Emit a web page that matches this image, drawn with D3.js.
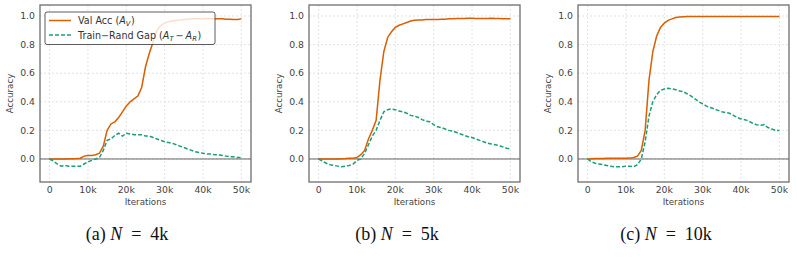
<!DOCTYPE html>
<html>
<head>
<meta charset="utf-8">
<script src="https://cdn.jsdelivr.net/npm/d3@7"></script>
<style>
  body { margin: 0; background: #fff; }
  svg text { font-family: "DejaVu Sans", sans-serif; }
</style>
</head>
<body>
<div id="chart"></div>
<script>
    // iterations in thousands
    const iters = d3.range(0, 51);
    const xTicks = [0, 10, 20, 30, 40, 50];
    const xTickLabels = ["0", "10k", "20k", "30k", "40k", "50k"];
    const yTicks = [0, 0.2, 0.4, 0.6, 0.8, 1.0];
    const captions = [["(a) ", "N", "4k"], ["(b) ", "N", "5k"], ["(c) ", "N", "10k"]];

    const valA = [0,0,0,0,0,0.002,0.002,0.003,0.005,0.02,0.025,0.025,0.03,0.04,0.09,0.2,0.245,0.26,0.29,0.33,
        0.37,0.4,0.42,0.44,0.5,0.645,0.74,0.82,0.9,0.935,0.95,0.96,0.965,0.97,0.972,0.975,0.978,0.98,0.98,0.98,
        0.98,0.982,0.98,0.98,0.98,0.98,0.978,0.978,0.975,0.975,0.98];
    const gapA = [0,-0.015,-0.035,-0.05,-0.045,-0.05,-0.05,-0.05,-0.05,-0.035,-0.02,-0.01,0,0.01,0.06,0.13,0.14,0.165,0.18,0.16,
        0.18,0.175,0.17,0.17,0.17,0.16,0.16,0.15,0.14,0.13,0.12,0.115,0.11,0.1,0.09,0.08,0.07,0.06,0.05,0.045,
        0.04,0.035,0.035,0.03,0.03,0.025,0.02,0.015,0.015,0.01,0.01];
    const valB = [0,0,0,0,0,0,0.002,0.003,0.005,0.005,0.01,0.03,0.06,0.14,0.2,0.27,0.55,0.75,0.85,0.89,
        0.92,0.935,0.945,0.955,0.965,0.97,0.972,0.972,0.975,0.975,0.975,0.975,0.978,0.978,0.98,0.98,0.982,0.982,0.982,0.985,
        0.985,0.983,0.982,0.983,0.983,0.985,0.983,0.983,0.98,0.98,0.98];
    const gapB = [0,-0.015,-0.03,-0.04,-0.045,-0.05,-0.055,-0.05,-0.045,-0.035,-0.01,0,0.04,0.1,0.16,0.2,0.27,0.33,0.345,0.35,
        0.345,0.335,0.33,0.32,0.305,0.3,0.29,0.275,0.265,0.26,0.24,0.225,0.22,0.21,0.2,0.195,0.185,0.175,0.165,0.155,
        0.15,0.14,0.13,0.12,0.11,0.105,0.1,0.095,0.085,0.075,0.07];
    const valC = [0,0.002,0.003,0.003,0.004,0.005,0.005,0.005,0.005,0.005,0.005,0.006,0.01,0.02,0.06,0.2,0.55,0.75,0.86,0.92,
        0.95,0.97,0.98,0.99,0.993,0.995,0.996,0.997,0.997,0.997,0.997,0.997,0.997,0.997,0.997,0.997,0.997,0.997,0.997,0.997,
        0.997,0.997,0.997,0.997,0.997,0.997,0.997,0.997,0.997,0.997,0.997];
    const gapC = [0,-0.02,-0.03,-0.035,-0.04,-0.045,-0.05,-0.055,-0.055,-0.055,-0.05,-0.05,-0.055,-0.04,0,0.12,0.3,0.4,0.45,0.48,
        0.49,0.495,0.49,0.485,0.475,0.47,0.455,0.44,0.42,0.4,0.385,0.37,0.36,0.35,0.34,0.33,0.325,0.32,0.305,0.29,
        0.28,0.275,0.265,0.25,0.24,0.235,0.24,0.22,0.21,0.2,0.2];

    const panels = [
        { val: valA, gap: gapA, left: 40, capX: 127 },
        { val: valB, gap: gapB, left: 309, capX: 397 },
        { val: valC, gap: gapC, left: 578, capX: 666 }
    ];

    const width = 797, height = 260;
    const axW = 211, axTop = 5, axBottom = 182;
    const orange = "#d95f02", green = "#1b9e77";

    const svg = d3.select("#chart").append("svg")
        .attr("width", width)
        .attr("height", height);

    const y = d3.scaleLinear().domain([-0.161, 1.077]).range([axBottom, axTop]);

    panels.forEach((p, pi) => {
        const x = d3.scaleLinear().domain([-2.5, 52.5]).range([p.left, p.left + axW]);
        const g = svg.append("g");

        // grid
        g.selectAll(".gx").data(xTicks).enter().append("line")
            .attr("x1", d => x(d)).attr("x2", d => x(d))
            .attr("y1", axTop).attr("y2", axBottom)
            .attr("stroke", "#dcdcdc").attr("stroke-width", 0.8).attr("stroke-dasharray", "2,2");
        g.selectAll(".gy").data(yTicks).enter().append("line")
            .attr("x1", p.left).attr("x2", p.left + axW)
            .attr("y1", d => y(d)).attr("y2", d => y(d))
            .attr("stroke", "#dcdcdc").attr("stroke-width", 0.8).attr("stroke-dasharray", "2,2");

        // zero line
        g.append("line")
            .attr("x1", p.left).attr("x2", p.left + axW)
            .attr("y1", y(0)).attr("y2", y(0))
            .attr("stroke", "#555").attr("stroke-width", 0.9);

        const line = data => d3.line().x((d, i) => x(iters[i])).y(d => y(d))(data);

        g.append("path").attr("d", line(p.val))
            .attr("fill", "none").attr("stroke", orange).attr("stroke-width", 1.5);
        g.append("path").attr("d", line(p.gap))
            .attr("fill", "none").attr("stroke", green).attr("stroke-width", 1.5)
            .attr("stroke-dasharray", "4,2");

        // frame
        g.append("rect")
            .attr("x", p.left).attr("y", axTop)
            .attr("width", axW).attr("height", axBottom - axTop)
            .attr("fill", "none").attr("stroke", "#6e6e6e").attr("stroke-width", 1.3);

        // tick labels
        g.selectAll(".tx").data(xTicks).enter().append("text")
            .attr("x", d => x(d)).attr("y", 193)
            .attr("text-anchor", "middle")
            .attr("font-size", 9.3).attr("fill", "#444")
            .text((d, i) => xTickLabels[i]);
        g.selectAll(".ty").data(yTicks).enter().append("text")
            .attr("x", p.left - 5).attr("y", d => y(d) + 3.3)
            .attr("text-anchor", "end")
            .attr("font-size", 9.3).attr("fill", "#444")
            .text(d => d3.format(".1f")(d));

        // axis labels
        g.append("text")
            .attr("x", p.left + axW / 2).attr("y", 205)
            .attr("text-anchor", "middle")
            .attr("font-size", 8.7).attr("fill", "#444")
            .text("Iterations");
        g.append("text")
            .attr("transform", `translate(${p.left - 27},${(axTop + axBottom) / 2}) rotate(-90)`)
            .attr("text-anchor", "middle")
            .attr("font-size", 8.7).attr("fill", "#444")
            .text("Accuracy");

        // caption
        const cap = svg.append("text")
            .attr("x", p.capX).attr("y", 240)
            .attr("text-anchor", "middle")
            .style("font-family", "'Liberation Serif', serif")
            .attr("font-size", 18).attr("fill", "#111");
        cap.append("tspan").text(captions[pi][0]);
        cap.append("tspan").attr("font-style", "italic").text(captions[pi][1]);
        cap.append("tspan").attr("dx", 9).text("=");
        cap.append("tspan").attr("dx", 9).text(captions[pi][2]);
    });

    // legend in first panel
    const lg = svg.append("g");
    lg.append("rect")
        .attr("x", 45).attr("y", 12).attr("width", 170).attr("height", 32.5)
        .attr("rx", 2)
        .attr("fill", "#fff").attr("fill-opacity", 0.8)
        .attr("stroke", "#333").attr("stroke-width", 0.8);
    lg.append("line").attr("x1", 49).attr("x2", 71).attr("y1", 20.5).attr("y2", 20.5)
        .attr("stroke", orange).attr("stroke-width", 1.5);
    lg.append("line").attr("x1", 49).attr("x2", 71).attr("y1", 35).attr("y2", 35)
        .attr("stroke", green).attr("stroke-width", 1.5).attr("stroke-dasharray", "4,2");

    const t1 = lg.append("text").attr("x", 78).attr("y", 24.3).attr("font-size", 9.6).attr("fill", "#333");
    t1.append("tspan").text("Val Acc (");
    t1.append("tspan").attr("font-style", "italic").text("A");
    t1.append("tspan").attr("font-size", 6.8).attr("font-style", "italic").attr("dy", 2).text("V");
    t1.append("tspan").attr("dy", -2).attr("dx", 0.5).text(")");

    const t2 = lg.append("text").attr("x", 78).attr("y", 38.5).attr("font-size", 9.6).attr("fill", "#333");
    t2.append("tspan").text("Train\u2212Rand Gap (");
    t2.append("tspan").attr("font-style", "italic").text("A");
    t2.append("tspan").attr("font-size", 6.8).attr("font-style", "italic").attr("dy", 2).text("T");
    t2.append("tspan").attr("dy", -2).attr("dx", 2).text("\u2212");
    t2.append("tspan").attr("dx", 2).attr("font-style", "italic").text("A");
    t2.append("tspan").attr("font-size", 6.8).attr("font-style", "italic").attr("dy", 2).text("R");
    t2.append("tspan").attr("dy", -2).attr("dx", 0.5).text(")");
</script>
</body>
</html>
